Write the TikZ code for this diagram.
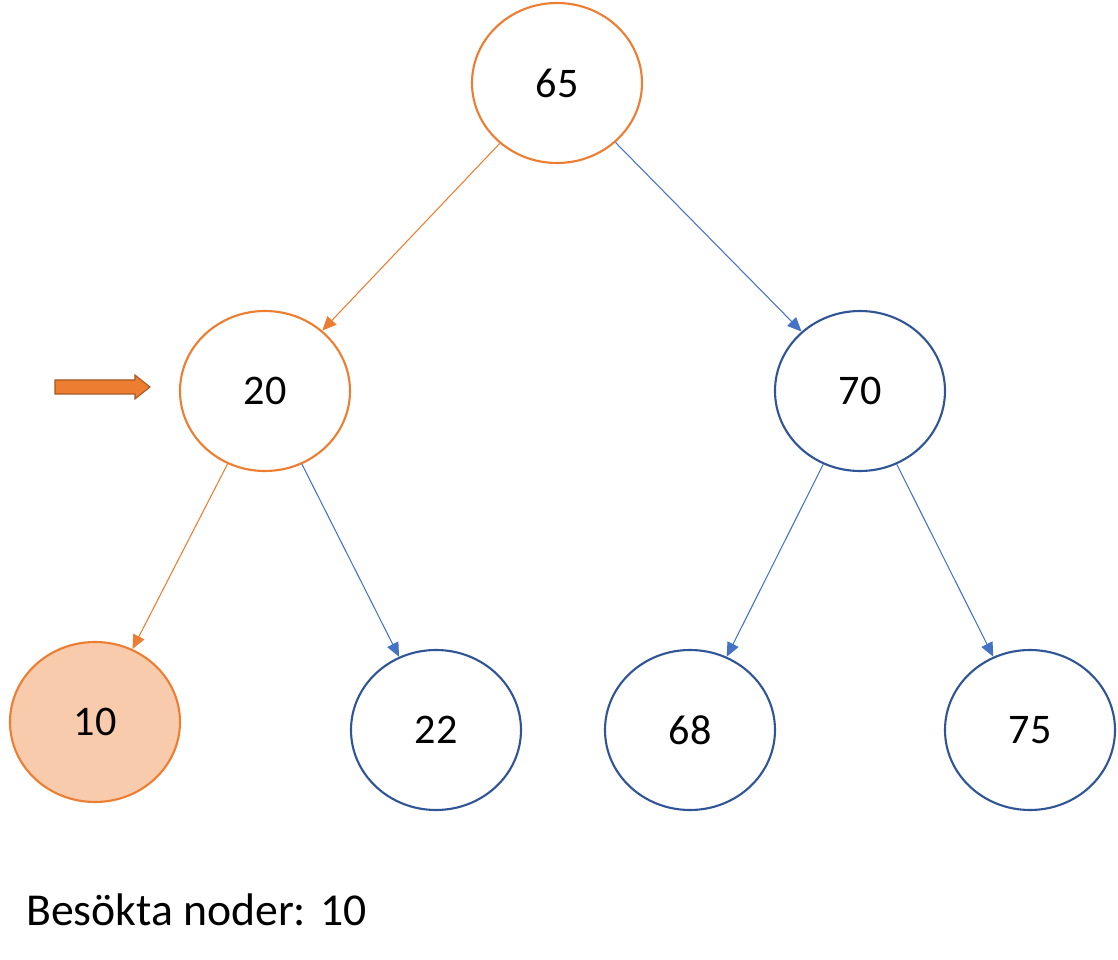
\documentclass[tikz,border=0pt]{standalone}
\usepackage{fontspec}
\setmainfont{Carlito}
\usetikzlibrary{arrows.meta,shapes.geometric}
\definecolor{orng}{HTML}{ED7D31}
\definecolor{blu}{HTML}{4472C4}
\definecolor{dblu}{HTML}{2F5597}
\definecolor{peach}{HTML}{F8CBAD}
\tikzset{
	treenode/.style={ellipse, draw=dblu, line width=1.2pt, minimum width=3.4cm, minimum height=3.2cm, font=\fontsize{24}{28}\selectfont},
	visited/.style={treenode, draw=orng},
	edge/.style={blu, line width=0.6pt, -{Triangle[length=8pt,width=7pt]}},
	oedge/.style={edge, orng}
}
\begin{document}
\begin{tikzpicture}
	\useasboundingbox (0,0) rectangle (22.36,-19.2);
	\node [visited] (n65) at (11.14,-1.66) {65};
	\node [visited] (n20) at (5.30,-7.82) {20};
	\node [treenode] (n70) at (17.20,-7.82) {70};
	\node [visited, fill=peach] (n10) at (1.90,-14.44) {10};
	\node [treenode] (n22) at (8.72,-14.60) {22};
	\node [treenode] (n68) at (13.80,-14.60) {68};
	\node [treenode] (n75) at (20.60,-14.60) {75};
	\draw [oedge] (n65) -- (n20);
	\draw [edge] (n65) -- (n70);
	\draw [oedge] (n20) -- (n10);
	\draw [edge] (n20) -- (n22);
	\draw [edge] (n70) -- (n68);
	\draw [edge] (n70) -- (n75);
	% pointer arrow
	\draw [orng!70!black, fill=orng, line width=0.6pt] (1.10,-7.60) -- (2.70,-7.60) -- (2.70,-7.50) -- (3.00,-7.74) -- (2.70,-7.98) -- (2.70,-7.88) -- (1.10,-7.88) -- cycle;
	\node [anchor=west, font=\fontsize{26}{30}\selectfont] (label) at (0.40,-18.20) {Besökta noder: 10};
\end{tikzpicture}
\end{document}
